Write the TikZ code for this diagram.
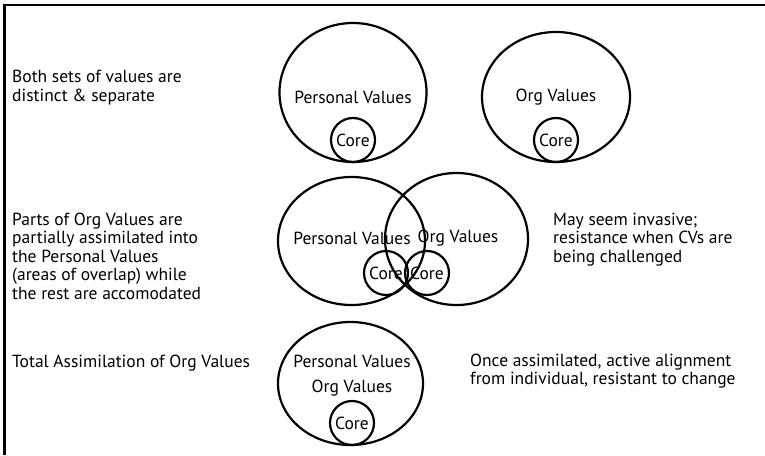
\documentclass[tikz,border=0pt]{standalone}
\usepackage{fontspec}
\setmainfont{PT Sans}
\usetikzlibrary{shapes,positioning}

\begin{document}
\begin{tikzpicture}[x=1pt,y=-1pt,
  vals/.style={draw,ellipse,line width=2.2pt,inner sep=0pt},
  core/.style={draw,circle,line width=2.2pt,minimum size=44pt,inner sep=0pt,font=\fontsize{17.5}{18.5}\selectfont},
  lbl/.style={inner sep=0pt,font=\fontsize{17.5}{18.5}\selectfont},
  note/.style={lbl,align=left,anchor=west}]
\useasboundingbox (0,0) rectangle (765,455);
\draw[line width=2.5pt] (4.5,455) -- (4.5,5) -- (765,5);

% separate
\node[note] (t1) at (12,87.5) {Both sets of values are\\distinct \& separate};
\node[vals,minimum width=147pt,minimum height=139pt] (pv1) at (353,92.5) {};
\node[vals,minimum width=148pt,minimum height=130pt] (ov1) at (556,97) {};
\node[lbl] (pl1) at (353,97) {Personal Values};
\node[lbl] (ol1) at (556,97) {Org Values};
\node[core] (pc1) at (353,140) {Core};
\node[core] (oc1) at (556,140) {Core};

% overlap
\node[note] (t2) at (12,256) {Parts of Org Values are\\partially assimilated into\\the Personal Values\\(areas of overlap) while\\the rest are accomodated};
\node[vals,minimum width=147pt,minimum height=128pt] (pv2) at (351.5,241) {};
\node[vals,minimum width=143pt,minimum height=132pt] (ov2) at (456.5,239) {};
\node[lbl] (pl2) at (352,238) {Personal Values};
\node[lbl] (ol2) at (458,238) {Org Values};
\node[core] (pc2) at (386,273) {Core};
\node[core] (oc2) at (427,273) {Core};
\node[note] (n2) at (553,239.5) {May seem invasive;\\resistance when CVs are\\being challenged};

% total
\node[note] (t3) at (12,363) {Total Assimilation of Org Values};
\node[vals,minimum width=145pt,minimum height=123pt] (pv3) at (350.5,383.5) {};
\node[lbl,align=center,font=\fontsize{17.5}{25}\selectfont] (pl3) at (352,375.5) {Personal Values\\Org Values};
\node[core] (pc3) at (352,423) {Core};
\node[note] (n3) at (470,371) {Once assimilated, active alignment\\from individual, resistant to change};
\end{tikzpicture}
\end{document}
